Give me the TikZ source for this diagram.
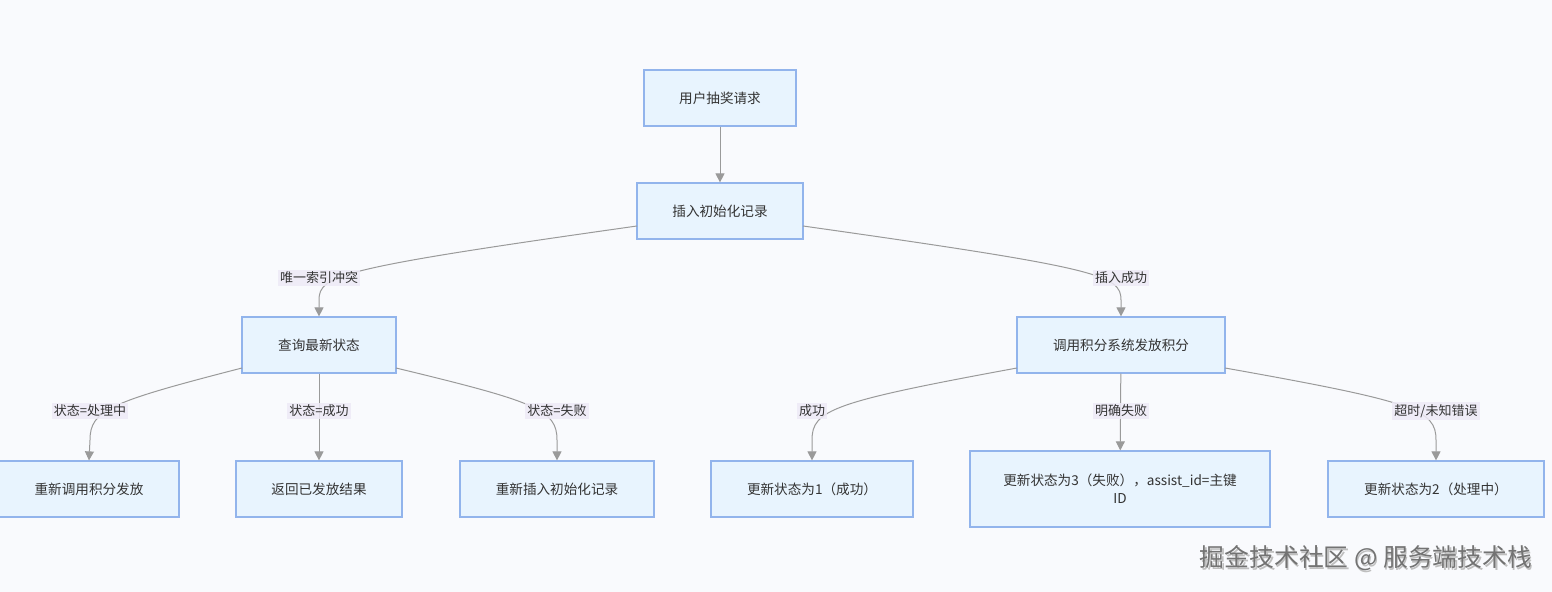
\documentclass[tikz,border=0pt]{standalone}
\usepackage{fontspec}
\setmainfont{Noto Sans CJK SC}
\usetikzlibrary{arrows.meta}
\definecolor{bg}{HTML}{F9FAFD}
\definecolor{boxf}{HTML}{E8F4FE}
\definecolor{boxd}{HTML}{92B4EC}
\definecolor{edge}{HTML}{9A9A9A}
\definecolor{lab}{HTML}{EEEAF6}
\begin{document}
\begin{tikzpicture}[x=0.5pt,y=-0.5pt,
  box/.style={draw=boxd,fill=boxf,line width=0.6pt,minimum height=28pt,inner sep=0pt,align=center,font=\fontsize{6.8pt}{9pt}\selectfont,text=black!80},
  lbl/.style={fill=lab,fill opacity=0.85,text opacity=1,inner sep=1pt,font=\fontsize{6.5pt}{8pt}\selectfont,text=black!80},
  e/.style={draw=edge,line width=0.5pt,-{Triangle[length=4.5pt,width=4.5pt,fill=edge]}},
  wmk/.style={font=\fontsize{12.4pt}{13pt}\selectfont}]
\fill[bg] (0,0) rectangle (1552,592);
\useasboundingbox (0,0) rectangle (1552,592);
\node[box,minimum width=76pt] (n1) at (720,98) {用户抽奖请求};
\node[box,minimum width=83pt] (n2) at (720,211) {插入初始化记录};
\node[box,minimum width=77pt] (n3) at (319,345) {查询最新状态};
\node[box,minimum width=104pt] (n4) at (1121,345) {调用积分系统发放积分};
\node[box,minimum width=90pt] (b1) at (89,489) {重新调用积分发放};
\node[box,minimum width=83pt] (b2) at (319,489) {返回已发放结果};
\node[box,minimum width=97pt] (b3) at (557,489) {重新插入初始化记录};
\node[box,minimum width=101pt] (b4) at (812,489) {更新状态为1（成功）};
\node[box,minimum width=150pt,minimum height=38pt,text width=120pt] (b5) at (1120,489) {更新状态为3（失败），assist\_id=主键\\ID};
\node[box,minimum width=108pt] (b6) at (1436,489) {更新状态为2（处理中）};
\coordinate (s21) at (637,226);
\coordinate (s22) at (803,226);
\coordinate (s31) at (242,368);
\coordinate (s32) at (396,368);
\coordinate (s41) at (1017,368);
\coordinate (s42) at (1225,368);
\draw[e] (n1) -- (n2);
\draw[e] (s21) .. controls (340,268) and (319,275) .. (319,300) -- (n3.north);
\draw[e] (s22) .. controls (1100,268) and (1121,275) .. (1121,300) -- (n4.north);
\draw[e] (s31) .. controls (110,402) and (90,410) .. (90,440) -- (b1.north);
\draw[e] (n3) -- (b2);
\draw[e] (s32) .. controls (537,402) and (557,410) .. (557,440) -- (b3.north);
\draw[e] (s41) .. controls (832,402) and (812,410) .. (812,440) -- (b4.north);
\draw[e] (n4) -- (b5);
\draw[e] (s42) .. controls (1416,402) and (1436,410) .. (1436,440) -- (b6.north);
\node[lbl] (l1) at (319,278) {唯一索引冲突};
\node[lbl] (l2) at (1121,278) {插入成功};
\node[lbl] (l3) at (90,411) {状态=处理中};
\node[lbl] (l4) at (319,411) {状态=成功};
\node[lbl] (l5) at (557,411) {状态=失败};
\node[lbl] (l6) at (812,411) {成功};
\node[lbl] (l7) at (1121,411) {明确失败};
\node[lbl] (l8) at (1436,411) {超时/未知错误};
\node[wmk,text=black!25] (wms) at (1367.5,560) {掘金技术社区 @ 服务端技术栈};
\node[wmk,text=black!55] (wm) at (1366,558) {掘金技术社区 @ 服务端技术栈};
\end{tikzpicture}
\end{document}
